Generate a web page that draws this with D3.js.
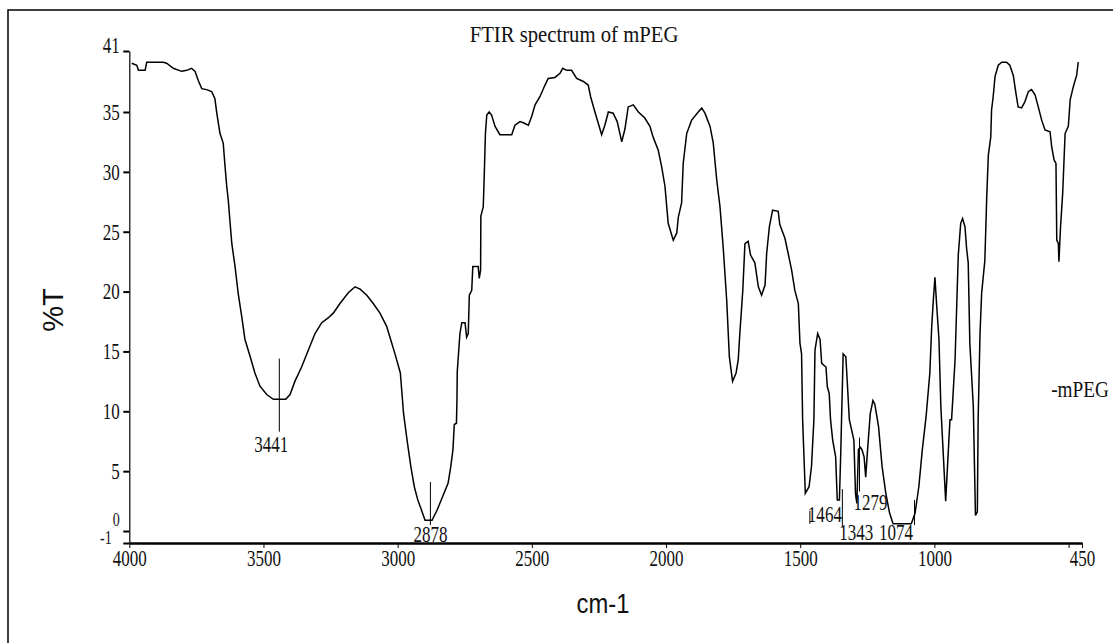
<!DOCTYPE html>
<html>
<head>
<meta charset="utf-8">
<script src="https://cdn.jsdelivr.net/npm/d3@7"></script>
<style>
  html, body { margin: 0; padding: 0; background: #fff; }
  svg { display: block; }
  text { fill: #111; }
</style>
</head>
<body>
<svg id="chart" width="1114" height="643"></svg>
<script>
// FTIR spectrum of mPEG: wavenumber (cm-1) vs. transmittance (%T)
const wavenumber = [
  3991, 3972, 3966, 3941, 3935, 3873, 3861, 3836, 3805, 3786, 3768, 3755, 3743, 3730, 3712, 3693,
  3681, 3674, 3662, 3650, 3643, 3637, 3631, 3625, 3618, 3606, 3594, 3581, 3569, 3550, 3532, 3513,
  3488, 3463, 3417, 3401, 3383, 3358, 3333, 3308, 3283, 3259, 3240, 3215, 3184, 3159, 3140, 3115,
  3091, 3066, 3041, 3029, 3010, 2990, 2978, 2965, 2951, 2938, 2925, 2912, 2898, 2872, 2852, 2832,
  2812, 2802, 2794, 2789, 2781, 2779, 2778, 2768, 2761, 2749, 2743, 2737, 2733, 2724, 2720, 2700,
  2696, 2691, 2690, 2681, 2677, 2673, 2668, 2659, 2650, 2637, 2619, 2575, 2563, 2544, 2532, 2513,
  2501, 2488, 2470, 2451, 2439, 2414, 2395, 2385, 2370, 2352, 2333, 2308, 2290, 2281, 2265, 2253,
  2240, 2228, 2215, 2197, 2182, 2165, 2153, 2141, 2122, 2103, 2079, 2060, 2048, 2029, 2016, 2004,
  1992, 1973, 1960, 1954, 1942, 1936, 1923, 1905, 1880, 1867, 1855, 1836, 1824, 1811, 1799, 1787,
  1774, 1764, 1752, 1739, 1731, 1725, 1714, 1706, 1694, 1685, 1669, 1656, 1644, 1631, 1625, 1615,
  1603, 1582, 1576, 1557, 1545, 1532, 1520, 1507, 1501, 1495, 1491, 1481, 1467, 1458, 1449, 1445,
  1435, 1426, 1420, 1404, 1399, 1392, 1387, 1379, 1368, 1362, 1354, 1349, 1340, 1330, 1325, 1317,
  1300, 1294, 1289, 1283, 1276, 1270, 1262, 1256, 1249, 1239, 1229, 1222, 1208, 1195, 1181, 1167,
  1154, 1086, 1072, 1058, 1045, 1031, 1017, 1010, 1004, 998, 992, 983, 976, 958, 942, 936,
  923, 911, 902, 895, 886, 880, 874, 868, 855, 847, 840, 837, 830, 824, 812, 805,
  799, 790, 787, 781, 774, 762, 749, 731, 719, 706, 696, 688, 675, 663, 650, 638,
  625, 613, 600, 588, 569, 563, 554, 547, 544, 538, 536, 530, 522, 513, 501, 494,
  485, 479, 470, 464
];
const transmittance = [
  39.8, 39.6, 39.1, 39.1, 39.9, 39.9, 39.8, 39.3, 39.0, 39.1, 39.3, 39.0, 38.1, 37.3, 37.2, 37.0,
  36.3, 34.9, 33.2, 32.4, 30.4, 28.8, 27.6, 25.9, 24.0, 22.1, 19.8, 17.9, 16.0, 14.6, 13.2, 12.1,
  11.4, 11.0, 11.0, 11.4, 12.5, 13.7, 15.1, 16.5, 17.4, 17.8, 18.2, 19.0, 19.9, 20.4, 20.2, 19.7,
  19.0, 18.2, 17.1, 16.2, 14.8, 13.2, 9.8, 7.6, 5.4, 3.7, 2.6, 1.8, 0.9, 0.9, 1.8, 2.9,
  4.0, 5.4, 6.8, 8.9, 9.0, 11.0, 13.3, 16.5, 17.4, 17.4, 16.2, 16.5, 19.7, 20.1, 22.1, 22.1,
  21.1, 21.8, 26.3, 27.1, 30.0, 33.2, 34.75, 35.0, 34.75, 33.8, 33.1, 33.1, 33.9, 34.2, 34.1, 33.9,
  34.6, 35.7, 36.5, 37.65, 38.3, 38.4, 38.8, 39.3, 39.1, 39.1, 38.3, 38.0, 37.65, 36.5, 35.0, 34.1,
  33.1, 33.9, 35.0, 34.9, 34.2, 32.5, 33.6, 35.5, 35.7, 35.0, 34.5, 33.8, 32.9, 31.8, 30.4, 28.8,
  25.7, 24.3, 24.9, 26.25, 27.4, 30.7, 33.2, 34.3, 35.0, 35.4, 34.9, 33.8, 32.4, 29.3, 27.1, 23.7,
  19.3, 14.55, 12.5, 13.2, 14.3, 16.5, 20.1, 24.0, 24.2, 23.05, 22.4, 20.4, 19.7, 20.55, 23.2, 25.4,
  26.8, 26.7, 25.6, 24.45, 23.2, 21.8, 20.1, 19.0, 15.7, 14.8, 9.3, 3.15, 3.7, 5.4, 9.3, 15.1,
  16.5, 16.0, 14.0, 13.7, 12.05, 11.5, 9.3, 7.6, 6.2, 2.6, 2.6, 6.5, 14.8, 14.55, 12.6, 9.3,
  7.6, 3.15, 2.3, 6.8, 7.0, 6.8, 6.2, 4.5, 6.8, 9.8, 10.9, 10.6, 8.7, 5.4, 3.15, 1.5,
  0.6, 0.6, 1.5, 3.7, 6.8, 9.55, 13.2, 17.1, 19.3, 21.2, 19.0, 16.0, 10.4, 2.5, 9.3, 9.3,
  14.3, 23.05, 25.7, 26.1, 25.4, 23.6, 22.4, 15.7, 10.4, 1.3, 1.6, 9.3, 16.5, 19.85, 22.6, 27.9,
  31.4, 32.9, 35.2, 36.5, 38.5, 39.6, 39.9, 39.9, 39.6, 38.6, 36.8, 35.5, 35.4, 36.0, 37.0, 37.2,
  36.7, 35.5, 34.3, 33.5, 33.35, 32.1, 31.0, 30.7, 24.3, 24.0, 22.5, 25.4, 28.2, 33.2, 33.8, 36.2,
  37.2, 37.8, 38.6, 39.9
];

// Axis ticks
const xTicks = [4000, 3500, 3000, 2500, 2000, 1500, 1000, 500, 450];
const xTickLabels = ["4000", "3500", "3000", "2500", "2000", "1500", "1000", "", "450"];
const yTicks = [-1, 0, 5, 10, 15, 20, 25, 30, 35, 41];
const yTickLabels = ["-1", "0", "5", "10", "15", "20", "25", "30", "35", "41"];

// Annotated absorption bands
const peakPositions = [3441, 2878, 1464, 1343, 1279, 1074];
const peakLabels = ["3441", "2878", "1464", "1343", "1279", "1074"];

const titleText = "FTIR spectrum of mPEG";
const xTitle = "cm-1";
const yTitle = "%T";
const seriesName = "-mPEG";

const svg = d3.select("#chart");
const serif = "'Liberation Serif', 'Times New Roman', serif";
const sans = "'Liberation Sans', Arial, sans-serif";
const squeeze = 0.74;

// frame
svg.append("path")
  .attr("d", "M8,643V10H1113")
  .attr("fill", "none").attr("stroke", "#000").attr("stroke-width", 1.5);

const x = d3.scaleLinear().domain([4000, 450]).range([129.3, 1082]);
const y = d3.scaleLinear().domain([-1, 35, 41]).range([543, 112, 51]);

// y axis; the two lowest labels sit tight against each other and the x labels,
// so they are set a little smaller
const gy = svg.append("g").attr("transform", "translate(129.3,0)")
  .call(d3.axisLeft(y).tickValues(yTicks).tickSize(6).tickSizeOuter(0)
    .tickFormat((d, i) => yTickLabels[i]));
gy.select(".domain").attr("stroke-width", 1.2);
gy.selectAll(".tick line").attr("stroke-width", 2);
gy.selectAll(".tick text")
  .attr("font-family", serif)
  .attr("font-size", d => d <= 0 ? 19 : 23)
  .attr("x", d => (d === -1 ? -17.5 : -9.5) / squeeze)
  .attr("transform", `scale(${squeeze},1)`)
  .attr("dy", d => d === 0 ? "-0.3em" : d === 41 ? "0.08em" : d === -1 ? "0.05em" : "0.32em");

// x axis
const gx = svg.append("g").attr("transform", "translate(0,543)")
  .call(d3.axisBottom(x).tickValues(xTicks).tickSize(5).tickSizeOuter(0)
    .tickFormat((d, i) => xTickLabels[i]));
gx.select(".domain").attr("stroke-width", 2.6);
gx.selectAll(".tick line").attr("stroke-width", 1);
gx.selectAll(".tick text")
  .attr("font-family", serif).attr("font-size", 23)
  .attr("y", 7)
  .attr("transform", `scale(${squeeze},1)`);

// spectrum
const points = wavenumber.map((w, i) => ({ w, t: transmittance[i] }));
svg.append("path")
  .datum(points)
  .attr("fill", "none")
  .attr("stroke", "#000")
  .attr("stroke-width", 1.5)
  .attr("stroke-linejoin", "miter")
  .attr("d", d3.line().x(d => x(d.w)).y(d => y(d.t)));

// band markers: [line top %T, line bottom %T, label dx, label baseline %T]
const markerLayout = {
  "3441": [14.4, 8.3, -8, 6.6],
  "2878": [4.1, 0.5, 0, -0.9],
  "1464": [1.7, 0.6, 15, 0.75],
  "1343": [3.5, 0.3, 14, -0.75],
  "1279": [7.8, 3.3, 11, 1.75],
  "1074": [2.6, 0.5, -18.5, -0.75]
};
const markers = svg.append("g");
peakPositions.forEach((p, i) => {
  const [top, bottom, dx, base] = markerLayout[peakLabels[i]];
  markers.append("line")
    .attr("x1", x(p)).attr("x2", x(p))
    .attr("y1", y(top)).attr("y2", y(bottom))
    .attr("stroke", "#000").attr("stroke-width", 1);
  markers.append("text")
    .attr("transform", `translate(${x(p) + dx},${y(base)}) scale(${squeeze},1)`)
    .attr("text-anchor", "middle")
    .attr("font-family", serif).attr("font-size", 23)
    .text(peakLabels[i]);
});

// titles
svg.append("text")
  .attr("transform", "translate(574,42) scale(0.9,1)")
  .attr("text-anchor", "middle")
  .attr("font-family", serif).attr("font-size", 23)
  .text(titleText);

svg.append("text")
  .attr("transform", "translate(63,310) rotate(-90)")
  .attr("text-anchor", "middle")
  .attr("font-family", sans).attr("font-size", 29)
  .text(yTitle);

svg.append("text")
  .attr("transform", "translate(603,613) scale(0.85,1)")
  .attr("text-anchor", "middle")
  .attr("font-family", sans).attr("font-size", 28)
  .text(xTitle);

svg.append("text")
  .attr("transform", "translate(1080,397) scale(0.8,1)")
  .attr("text-anchor", "middle")
  .attr("font-family", serif).attr("font-size", 24)
  .text(seriesName);
</script>
</body>
</html>
